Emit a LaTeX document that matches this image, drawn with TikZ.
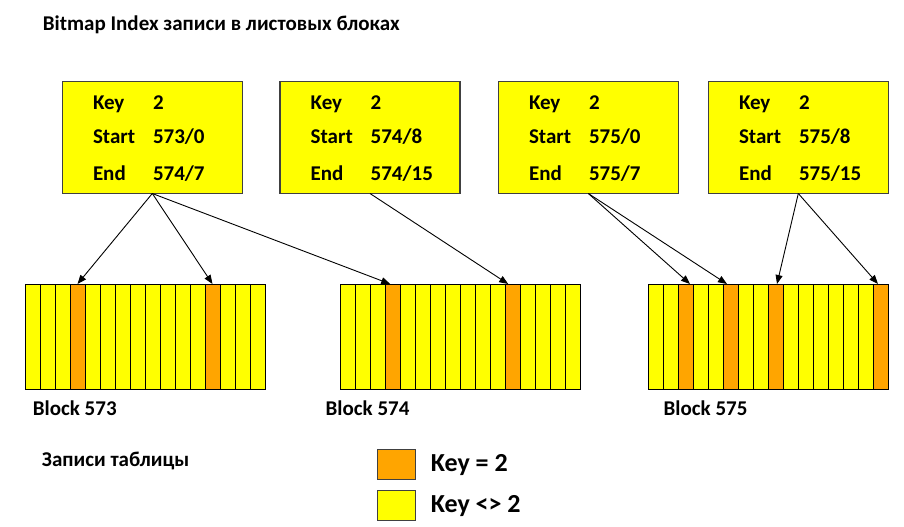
\documentclass[tikz,border=0pt]{standalone}
\usepackage{fontspec}
\setmainfont{Carlito}
\usetikzlibrary{arrows.meta}
\definecolor{keyyellow}{HTML}{FFFF00}
\definecolor{keyorange}{HTML}{FFA500}
\definecolor{boxborder}{HTML}{404040}
\tikzset{
  idxbox/.style={draw=boxborder, line width=1.3bp, fill=keyyellow, minimum width=180bp, minimum height=112bp, inner sep=0, outer sep=0},
  cell/.style={draw=black, line width=0.9bp, fill=keyyellow, minimum width=15bp, minimum height=105bp, inner sep=0, outer sep=0},
  orangecell/.style={cell, fill=keyorange},
  legendbox/.style={draw=boxborder, line width=1.2bp, minimum width=38bp, minimum height=30bp, inner sep=0, outer sep=0},
  txt/.style={font=\fontsize{21bp}{25bp}\selectfont\bfseries, anchor=base west, inner sep=0},
  bigtxt/.style={font=\fontsize{26bp}{30bp}\selectfont\bfseries, anchor=base west, inner sep=0},
  ptr/.style={draw=black, line width=0.9bp, -{Triangle[length=9bp,width=7bp]}}
}
\begin{document}
\begin{tikzpicture}[x=1bp, y=-1bp]
\useasboundingbox (0,0) rectangle (904,527);
% title
\node[txt] (title) at (42.7,31) {Bitmap Index записи в листовых блоках};
% index entries
\foreach \bx/\nm/\st/\en in {62.3/e1/573\slash 0/574\slash 7, 280/e2/574\slash 8/574\slash 15, 498.3/e3/575\slash 0/575\slash 7, 708.3/e4/575\slash 8/575\slash 15}{
  \node[idxbox] (\nm) at (\bx+90,137.5) {};
  \node[txt] (\nm k) at (\bx+30.5,109.7) {Key};
  \node[txt] (\nm kv) at (\bx+90.5,109.7) {2};
  \node[txt] (\nm s) at (\bx+30.5,143.3) {Start};
  \node[txt] (\nm sv) at (\bx+90.5,143.3) {\st};
  \node[txt] (\nm e) at (\bx+30.5,180.8) {End};
  \node[txt] (\nm ev) at (\bx+90.5,180.8) {\en};
}
% blocks
\foreach \bx/\bn in {25/573, 340.7/574, 648.5/575}{
  \foreach \i in {0,...,15}{
    \node[cell] (b\bn c\i) at (\bx+\i*15+7.5,336.5) {};
  }
}
\foreach \c in {b573c3, b573c12, b574c3, b574c11, b575c2, b575c5, b575c8, b575c15}{
  \node[orangecell] at (\c) {};
}
\node[txt] (l573) at (32.7,415.7) {Block 573};
\node[txt] (l574) at (325.5,415.7) {Block 574};
\node[txt] (l575) at (663.5,415.7) {Block 575};
\node[txt] (recs) at (41.7,466.7) {Записи таблицы};
% legend
\node[legendbox, fill=keyorange] (lgo) at (396.5,464.3) {};
\node[legendbox, fill=keyyellow] (lgy) at (396.5,505.7) {};
\node[bigtxt] (lgot) at (430.7,471.7) {Key = 2};
\node[bigtxt] (lgyt) at (430.7,512.7) {Key <> 2};
% pointers
\draw[ptr] (e1.south) -- (b573c3.north);
\draw[ptr] (e1.south) -- (b573c12.north);
\draw[ptr] (e1.south) -- ([xshift=-3bp]b574c3.north);
\draw[ptr] (e2.south) -- ([xshift=-5bp]b574c11.north);
\draw[ptr] (e3.south) -- ([xshift=4bp]b575c2.north);
\draw[ptr] (e3.south) -- ([xshift=-4bp]b575c5.north);
\draw[ptr] (e4.south) -- ([xshift=1bp]b575c8.north);
\draw[ptr] (e4.south) -- ([xshift=-3bp]b575c15.north);
\end{tikzpicture}
\end{document}
